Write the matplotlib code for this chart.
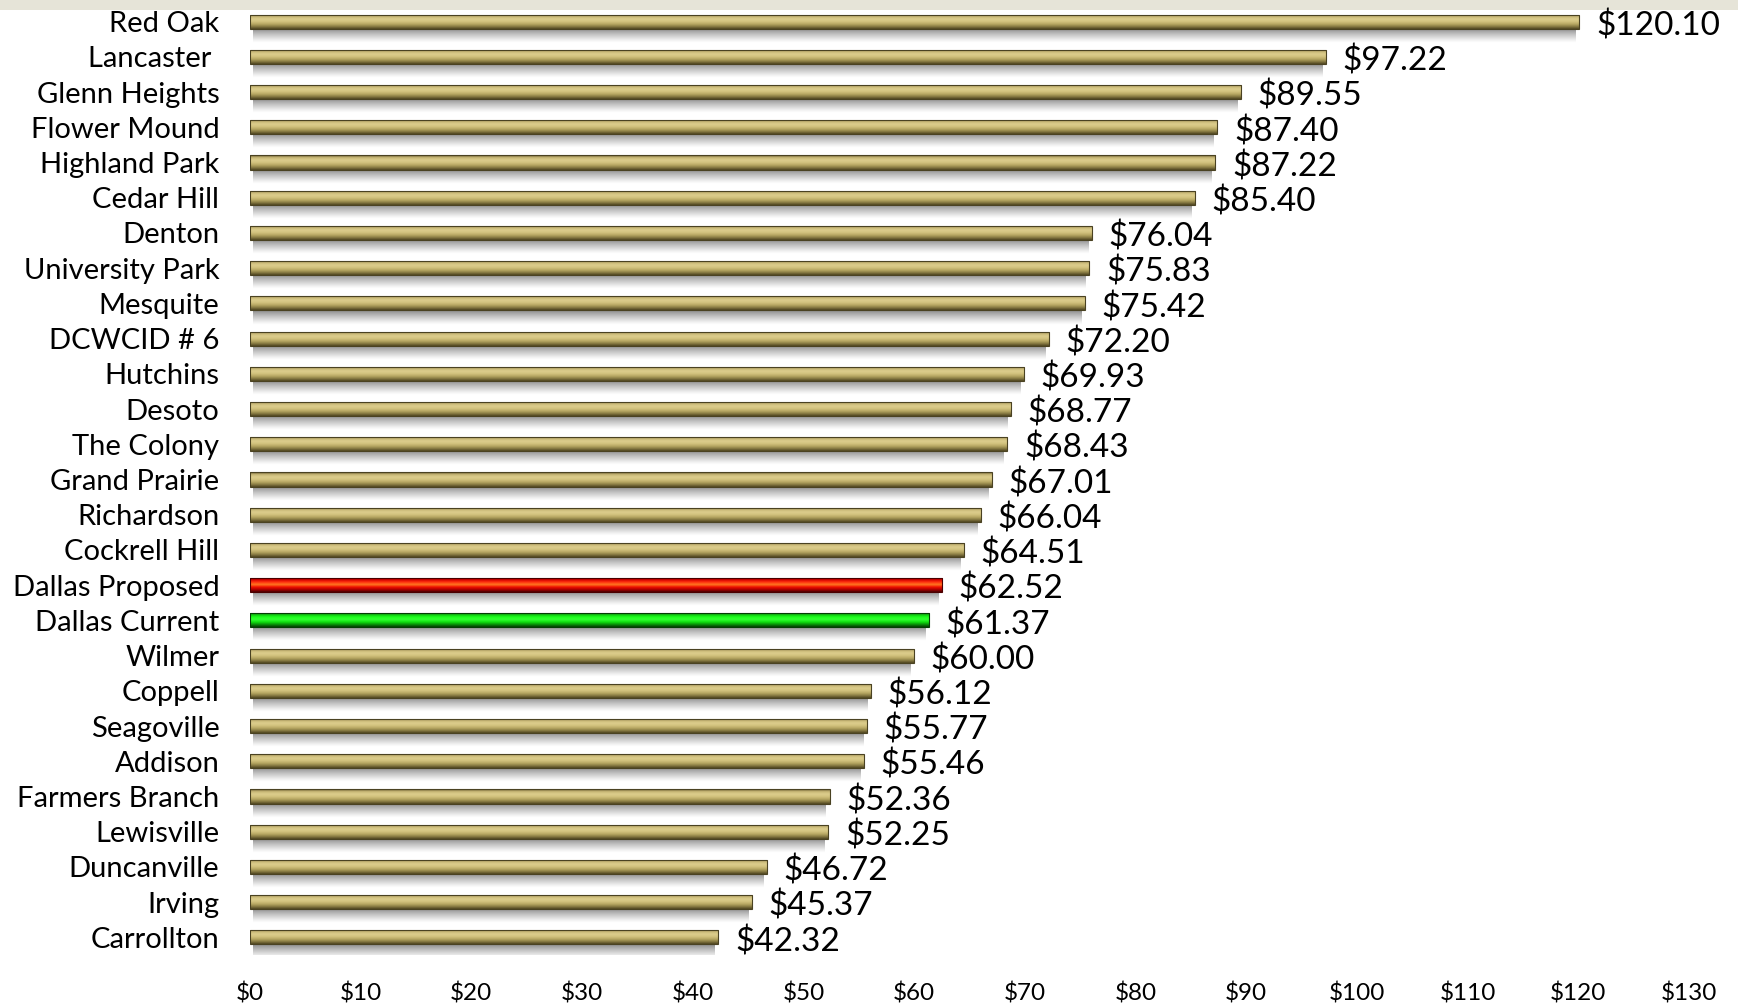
import numpy as np
import matplotlib
matplotlib.use("Agg")
import matplotlib.pyplot as plt
from matplotlib.colors import LinearSegmentedColormap

plt.rcParams['font.family'] = ['Lato', 'DejaVu Sans']

# data
cities = ["Red Oak", "Lancaster ", "Glenn Heights", "Flower Mound", "Highland Park",
          "Cedar Hill", "Denton", "University Park", "Mesquite", "DCWCID # 6",
          "Hutchins", "Desoto", "The Colony", "Grand Prairie", "Richardson",
          "Cockrell Hill", "Dallas Proposed", "Dallas Current", "Wilmer", "Coppell",
          "Seagoville", "Addison", "Farmers Branch", "Lewisville", "Duncanville",
          "Irving", "Carrollton"]
values = [120.10, 97.22, 89.55, 87.40, 87.22, 85.40, 76.04, 75.83, 75.42, 72.20,
          69.93, 68.77, 68.43, 67.01, 66.04, 64.51, 62.52, 61.37, 60.00, 56.12,
          55.77, 55.46, 52.36, 52.25, 46.72, 45.37, 42.32]
bar_style = ["tan"] * 16 + ["red", "green"] + ["tan"] * 9
xticks = list(range(0, 131, 10))
xtick_labels = ["$" + str(t) for t in xticks]

# gradient stops, top -> bottom of each bar
stops = {
    "tan": ["#6e6234", "#c9b877", "#dccd8c", "#d3c37f", "#b8a864", "#8a7c44", "#4f4622"],
    "red": ["#5e0000", "#d00000", "#ff3010", "#ff7a20", "#f01000", "#b00000", "#4a0000"],
    "green": ["#0b4d0b", "#10c010", "#1cff1c", "#33ff33", "#10e010", "#089008", "#043d04"],
}
edges = {"tan": "#4a4222", "red": "#4a0000", "green": "#043d04"}
cmaps = {k: LinearSegmentedColormap.from_list(k, v) for k, v in stops.items()}

fig = plt.figure(figsize=(17.38, 10.05), dpi=100)
# faded photo strip at top
fig.patches.append(plt.Rectangle((0, 0.99), 1, 0.01, transform=fig.transFigure,
                                 facecolor="#e6e4d8", zorder=-1))
ax = fig.add_axes([0.1438, 0.0498, 0.8280, 0.9462])
ax.set_facecolor("none")

n = len(cities)
ypos = np.arange(n)
h = 0.40
grad = np.linspace(0, 1, 64).reshape(-1, 1)

# shadow gradient (gray fading to transparent)
sh = np.zeros((32, 1, 4))
sh[:, 0, :3] = 0.3
sh[:, 0, 3] = np.linspace(0.7, 0.0, 32) ** 1.2

for y, v, s in zip(ypos, values, bar_style):
    ax.imshow(sh, extent=(0.3, v - 0.3, y + h / 2, y + h / 2 + 0.4), origin="lower",
              aspect="auto", zorder=1, interpolation="bilinear")
    bar = ax.barh(y, v, height=h, facecolor="none", edgecolor=edges[s],
                  linewidth=0.8, zorder=3)[0]
    im = ax.imshow(grad, cmap=cmaps[s], extent=(0, v, y - h / 2, y + h / 2),
                   origin="lower", aspect="auto", zorder=2, interpolation="bilinear")
    im.set_clip_path(bar)
    ax.text(v + 1.5, y + 0.12, "${:.2f}".format(v), va="center", ha="left",
            fontsize=24, color="black", zorder=4, clip_on=False)

ax.set_xlim(0, 130)
ax.set_ylim(n - 0.5, -0.5)
ax.set_xticks(xticks)
ax.set_xticklabels(xtick_labels, fontsize=17.5)
ax.set_yticks(ypos)
ax.set_yticklabels(cities, fontsize=21)
ax.tick_params(axis="both", length=0)
ax.tick_params(axis="x", pad=20)
ax.tick_params(axis="y", pad=22)
for sp in ax.spines.values():
    sp.set_visible(False)

fig.savefig("out.png", dpi=100, facecolor="white")
